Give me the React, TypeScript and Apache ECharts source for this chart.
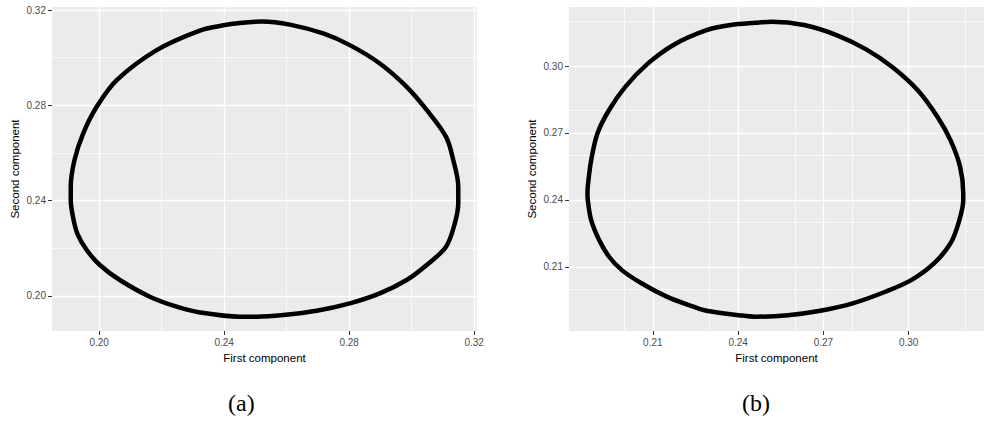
import React, { useEffect, useRef } from "react";
import * as echarts from "echarts";

// Panel (a) closed curve (first component, second component)
const curveAX = [0.1909, 0.1909, 0.1921, 0.1949, 0.1992, 0.2056, 0.2184, 0.2322, 0.2393, 0.2450, 0.2521, 0.2610, 0.2717, 0.2802, 0.2898, 0.2984, 0.3048, 0.3110, 0.3133, 0.3149, 0.3149, 0.3138, 0.3110, 0.3048, 0.2984, 0.2898, 0.2802, 0.2696, 0.2589, 0.2504, 0.2450, 0.2322, 0.2248, 0.2162, 0.2066, 0.2002, 0.1960, 0.1930, 0.1916, 0.1909, 0.1909];
const curveAY = [0.2424, 0.2459, 0.2571, 0.2683, 0.2794, 0.2906, 0.3032, 0.3114, 0.3135, 0.3146, 0.3152, 0.3139, 0.3102, 0.3053, 0.2976, 0.2878, 0.2781, 0.2668, 0.2571, 0.2459, 0.2389, 0.2305, 0.2207, 0.2130, 0.2067, 0.2011, 0.1969, 0.1938, 0.1920, 0.1913, 0.1913, 0.1931, 0.1955, 0.1997, 0.2067, 0.2130, 0.2193, 0.2262, 0.2333, 0.2403, 0.2424];

// Panel (b) closed curve
const curveBX = [0.1870, 0.1871, 0.1883, 0.1905, 0.1946, 0.2003, 0.2083, 0.2174, 0.2289, 0.2374, 0.2460, 0.2518, 0.2632, 0.2746, 0.2849, 0.2941, 0.3032, 0.3101, 0.3147, 0.3181, 0.3192, 0.3192, 0.3175, 0.3147, 0.3089, 0.3009, 0.2918, 0.2803, 0.2689, 0.2575, 0.2460, 0.2403, 0.2289, 0.2243, 0.2151, 0.2060, 0.1991, 0.1946, 0.1911, 0.1883, 0.1871, 0.1870];
const curveBY = [0.2430, 0.2459, 0.2578, 0.2698, 0.2803, 0.2907, 0.3012, 0.3096, 0.3161, 0.3184, 0.3194, 0.3199, 0.3184, 0.3139, 0.3076, 0.2997, 0.2892, 0.2773, 0.2668, 0.2548, 0.2429, 0.2399, 0.2295, 0.2205, 0.2115, 0.2040, 0.1988, 0.1936, 0.1903, 0.1883, 0.1876, 0.1883, 0.1903, 0.1921, 0.1965, 0.2026, 0.2085, 0.2145, 0.2220, 0.2309, 0.2400, 0.2430];

// Tick values
const ticksAMajor = [0.2, 0.24, 0.28, 0.32];
const ticksAMinor = [0.22, 0.26, 0.3];
const ticksBMajor = [0.21, 0.24, 0.27, 0.3];
const ticksBMinor = [0.195, 0.225, 0.255, 0.285, 0.315];

// Axis extents
const rangeAX = [0.1849, 0.3209];
const rangeAY = [0.1853, 0.3213];
const rangeBX = [0.1805, 0.3265];
const rangeBY = [0.1812, 0.3265];

const captions = ["(a)", "(b)"];
const xTitle = "First component";
const yTitle = "Second component";

const FONT = "'Liberation Sans', Arial, Helvetica, sans-serif";
const SERIF = "24px 'Liberation Serif', 'DejaVu Serif', serif";

function zip(xs: number[], ys: number[]) {
  return xs.map((x, i) => [x, ys[i]]);
}

function makeAxis(kind: "x" | "y", gridIndex: number, range: number[], major: number[]) {
  return {
    type: "value",
    gridIndex,
    min: range[0],
    max: range[1],
    name: kind === "x" ? xTitle : yTitle,
    nameLocation: "middle",
    nameGap: kind === "x" ? 20 : 31,
    nameTextStyle: { color: "#000", fontSize: 11.5, fontFamily: FONT },
    axisLine: { show: false },
    axisTick: {
      show: true,
      length: 4,
      customValues: major,
      lineStyle: { color: "#333333", width: 1 },
    },
    axisLabel: {
      show: true,
      customValues: major,
      margin: 6,
      color: "#4D4D4D",
      fontSize: 10,
      fontFamily: FONT,
      formatter: (v: number) => v.toFixed(2),
    },
    splitLine: { show: false },
    minorTick: { show: false },
    minorSplitLine: { show: false },
  };
}

function gridLines(xMajor: number[], xMinor: number[], yMajor: number[], yMinor: number[]) {
  const major = { color: "#FFFFFF", width: 1.4, type: "solid" };
  const minor = { color: "#FFFFFF", width: 0.7, type: "solid" };
  return [
    ...xMinor.map((v) => ({ xAxis: v, lineStyle: minor })),
    ...yMinor.map((v) => ({ yAxis: v, lineStyle: minor })),
    ...xMajor.map((v) => ({ xAxis: v, lineStyle: major })),
    ...yMajor.map((v) => ({ yAxis: v, lineStyle: major })),
  ];
}

function curveSeries(idx: number, data: number[][], lines: any[]) {
  return {
    type: "line",
    xAxisIndex: idx,
    yAxisIndex: idx,
    data,
    smooth: 0.33,
    symbol: "none",
    z: 10,
    silent: true,
    lineStyle: { color: "#000000", width: 4.5, cap: "round", join: "round" },
    markLine: {
      z: 1,
      silent: true,
      symbol: ["none", "none"],
      label: { show: false },
      emphasis: { disabled: true },
      animation: false,
      data: lines,
    },
  };
}

export default function App() {
  const ref = useRef<HTMLDivElement>(null);
  useEffect(() => {
    if (!ref.current) return;
    const chart = echarts.init(ref.current, undefined, { renderer: "svg" });
    chart.setOption({
      animation: false,
      backgroundColor: "#FFFFFF",
      grid: [
        { left: 52, top: 7, width: 425, height: 324, show: true, backgroundColor: "#EBEBEB", borderWidth: 0 },
        { left: 569, top: 7, width: 425.5, height: 324, show: true, backgroundColor: "#EBEBEB", borderWidth: 0 },
      ],
      xAxis: [makeAxis("x", 0, rangeAX, ticksAMajor), makeAxis("x", 1, rangeBX, ticksBMajor)],
      yAxis: [makeAxis("y", 0, rangeAY, ticksAMajor), makeAxis("y", 1, rangeBY, ticksBMajor)],
      series: [
        curveSeries(0, zip(curveAX, curveAY), gridLines(ticksAMajor, ticksAMinor, ticksAMajor, ticksAMinor)),
        curveSeries(1, zip(curveBX, curveBY), gridLines(ticksBMajor, ticksBMinor, ticksBMajor, ticksBMinor)),
      ],
      graphic: [
        {
          type: "text",
          left: 228,
          top: 391,
          style: { text: captions[0], font: SERIF, fill: "#000" },
        },
        {
          type: "text",
          left: 742,
          top: 391,
          style: { text: captions[1], font: SERIF, fill: "#000" },
        },
      ],
    });
    return () => chart.dispose();
  }, []);
  return (
    <div style={{ position: "fixed", left: 0, top: 0, width: 984, height: 421, overflow: "hidden", background: "#fff" }}>
      <div ref={ref} style={{ width: 984, height: 421 }} />
    </div>
  );
}
